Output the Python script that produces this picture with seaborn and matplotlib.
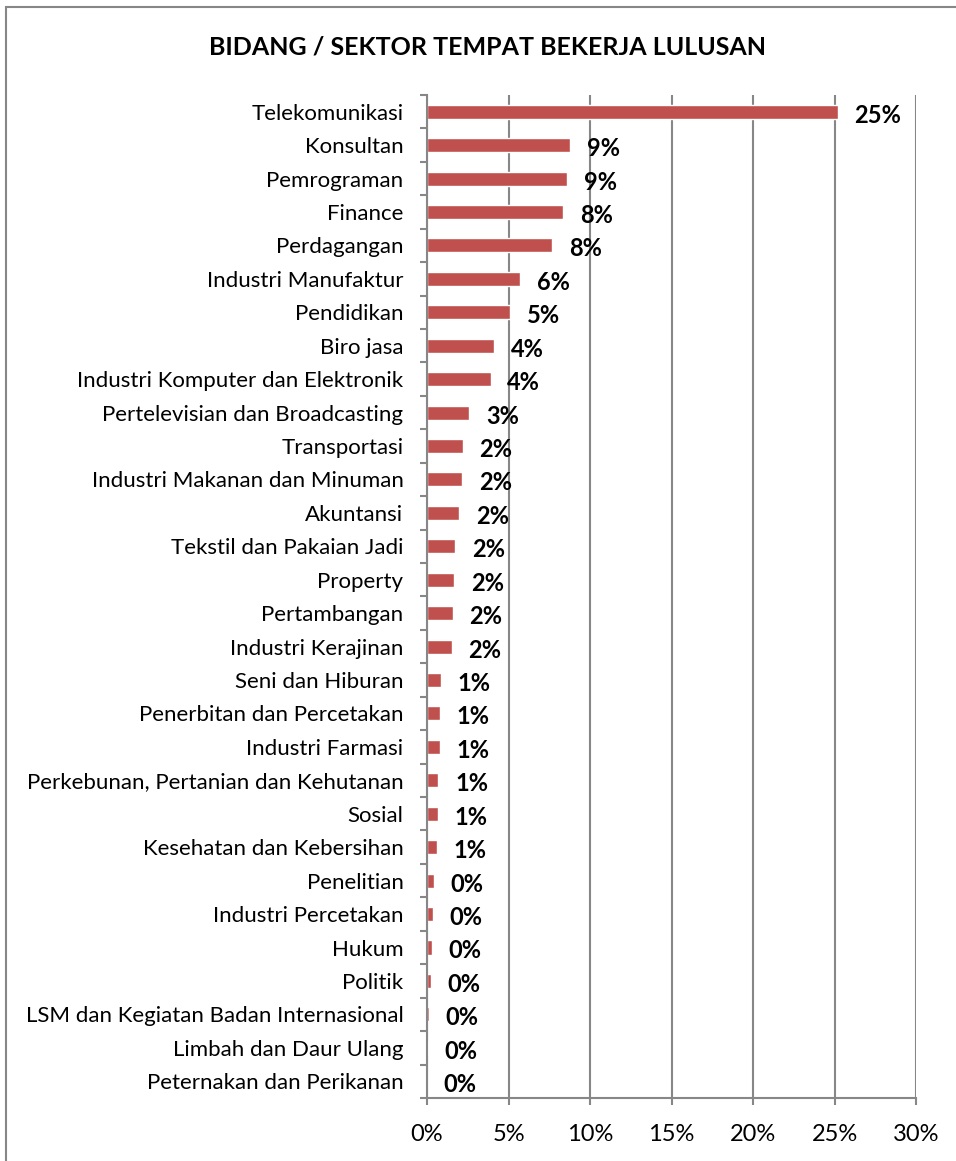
import matplotlib
matplotlib.use('Agg')
import matplotlib.pyplot as plt
import matplotlib.patches as patches
from matplotlib.ticker import FuncFormatter, FixedLocator
import numpy as np
import pandas as pd
import seaborn as sns

# -----------------------------
# DATA
# -----------------------------

sectors = [
    'Telekomunikasi', 'Konsultan', 'Pemrograman', 'Finance', 'Perdagangan',
    'Industri Manufaktur', 'Pendidikan', 'Biro jasa',
    'Industri Komputer dan Elektronik', 'Pertelevisian dan Broadcasting',
    'Transportasi', 'Industri Makanan dan Minuman', 'Akuntansi',
    'Tekstil dan Pakaian Jadi', 'Property', 'Pertambangan',
    'Industri Kerajinan', 'Seni dan Hiburan', 'Penerbitan dan Percetakan',
    'Industri Farmasi', 'Perkebunan, Pertanian dan Kehutanan', 'Sosial',
    'Kesehatan dan Kebersihan', 'Penelitian', 'Industri Percetakan',
    'Hukum', 'Politik', 'LSM dan Kegiatan Badan Internasional',
    'Limbah dan Daur Ulang', 'Peternakan dan Perikanan',
]

# share of graduates, in percent
share = [
    25.2, 8.77, 8.6, 8.35, 7.67,
    5.7, 5.1, 4.1,
    3.9, 2.6,
    2.2, 2.15, 1.96,
    1.72, 1.66, 1.58,
    1.52, 0.86, 0.8,
    0.78, 0.7, 0.68,
    0.6, 0.43, 0.37,
    0.3, 0.22, 0.1,
    0.03, 0.0,
]

x_ticks = [0, 5, 10, 15, 20, 25, 30]

df = pd.DataFrame({'sector': sectors, 'share': share})

# -----------------------------
# STYLE
# -----------------------------

sns.set_style('white')
plt.rcParams['font.family'] = ['Lato', 'DejaVu Sans']
plt.rcParams['text.color'] = 'black'
plt.rcParams['xtick.color'] = 'black'
plt.rcParams['ytick.color'] = 'black'

bar_color = '#C0504D'
grid_color = '#878787'

# -----------------------------
# PLOT
# -----------------------------

fig = plt.figure(figsize=(9.56, 11.61), dpi=100)
ax = fig.add_axes([0.4467, 0.0543, 0.5115, 0.8639])

sns.barplot(data=df, x='share', y='sector', color=bar_color,
            width=0.42, saturation=1, ax=ax)

ax.set_xlim(0, 30)
ax.set_xticks(x_ticks)
ax.xaxis.set_major_formatter(FuncFormatter(lambda v, p: f'{v:.0f}%'))
ax.set_xlabel('')
ax.set_ylabel('')

# vertical grid
ax.grid(axis='x', color=grid_color, linewidth=1.5)
ax.set_axisbelow(True)

for side in ['top', 'right']:
    ax.spines[side].set_visible(False)
for side in ['left', 'bottom']:
    ax.spines[side].set_color(grid_color)
    ax.spines[side].set_linewidth(1.5)

# tick marks between categories like Excel
n = len(sectors)
ax.yaxis.set_minor_locator(FixedLocator(np.arange(-0.5, n, 1.0)))
ax.tick_params(axis='y', which='minor', length=5, width=1.5,
               color=grid_color, direction='out', left=True)
ax.tick_params(axis='y', which='major', length=0, pad=17, labelsize=16)
ax.tick_params(axis='x', which='major', length=5, width=1.5,
               color=grid_color, direction='out', bottom=True,
               pad=14, labelsize=17)

# data labels, sitting a bit below the bar centre
labels = [f'{v:.0f}%' for v in share]
texts = ax.bar_label(ax.containers[0], labels=labels, padding=12,
                     fontweight='bold', fontsize=17)
for t in texts:
    dx, dy = t.xyann
    t.xyann = (dx, dy - 2.5)

fig.text(0.51, 0.9595, 'BIDANG / SEKTOR TEMPAT BEKERJA LULUSAN',
         ha='center', va='center', fontweight='bold', fontsize=18)

# chart area border
fig.patches.append(patches.Rectangle((6 / 956, -0.01), 1.0, 1.0 - 7 / 1161 + 0.01,
                                     transform=fig.transFigure, fill=False,
                                     edgecolor=grid_color, linewidth=1.5))

fig.savefig('out.png', dpi=100)
